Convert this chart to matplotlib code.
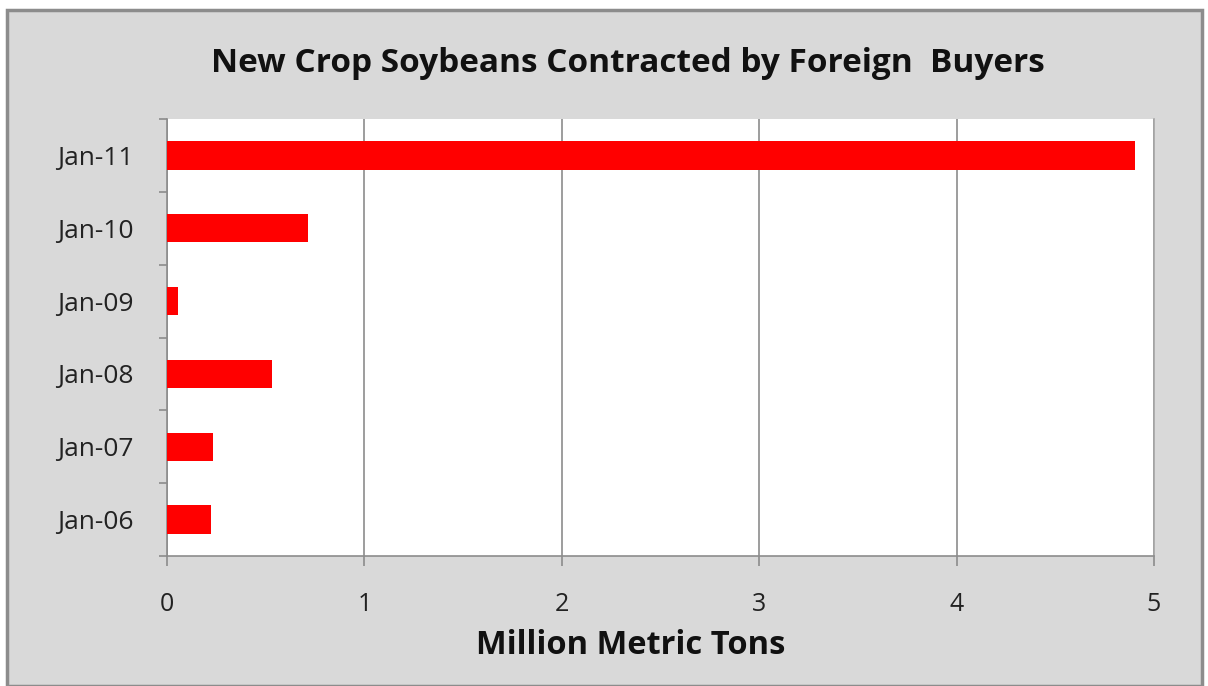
import numpy as np
import matplotlib.pyplot as plt
from matplotlib.patches import Rectangle

labels = ["Jan-06", "Jan-07", "Jan-08", "Jan-09", "Jan-10", "Jan-11"]
values = [0.225, 0.233, 0.53, 0.057, 0.715, 4.905]
xticks = [0, 1, 2, 3, 4, 5]

plt.rcParams['font.family'] = ['Open Sans', 'DejaVu Sans']

fig = plt.figure(figsize=(12.08, 6.86), dpi=100)
fig.patch.set_facecolor("white")
# gray chart area with border
fig.patches.append(Rectangle((7/1208, 0), 1195/1208, 1 - 10/686, transform=fig.transFigure,
                             facecolor="#d9d9d9", edgecolor="#8c8c8c", linewidth=2.5, zorder=-5))

ax = fig.add_axes([167/1208, 1 - 556/686, (1154 - 167)/1208, (556 - 119)/686])
ax.set_facecolor("white")
y = np.arange(len(labels))
ax.barh(y, values, height=0.39, color="#ff0000", zorder=3)

ax.set_xlim(0, 5)
ax.set_ylim(-0.5, len(labels) - 0.5)
ax.set_xticks(xticks)
ax.set_xticklabels([str(t) for t in xticks], fontsize=18, color="#222222")
ax.set_yticks(y)
ax.set_yticklabels(labels, fontsize=19, color="#222222")
ax.set_yticks(np.arange(-0.5, len(labels)), minor=True)
ax.tick_params(axis="y", which="major", length=0, pad=24)
ax.tick_params(axis="y", which="minor", length=6, color="#8c8c8c", width=1.2)
ax.tick_params(axis="x", length=7, color="#8c8c8c", width=1.2, pad=19)
ax.xaxis.grid(True, color="#8c8c8c", linewidth=1.2, zorder=1)

for s in ["top"]:
    ax.spines[s].set_visible(False)
ax.spines["right"].set_color("#a6a6a6")
ax.spines["left"].set_color("#8c8c8c")
ax.spines["bottom"].set_color("#8c8c8c")
for s in ["left", "bottom", "right"]:
    ax.spines[s].set_linewidth(1.2)

ax.set_xlabel("Million Metric Tons", fontsize=23.5, fontweight="bold", color="#111111")
ax.xaxis.set_label_coords((631 - 167) / 987, -(645 - 556) / 437)
ax.xaxis.label.set_va("center")
fig.text(628/1208, 1 - 63/686, "New Crop Soybeans Contracted by Foreign  Buyers",
         ha="center", va="center", fontsize=24, fontweight="bold", color="#111111")

fig.savefig("out.png", dpi=100)
